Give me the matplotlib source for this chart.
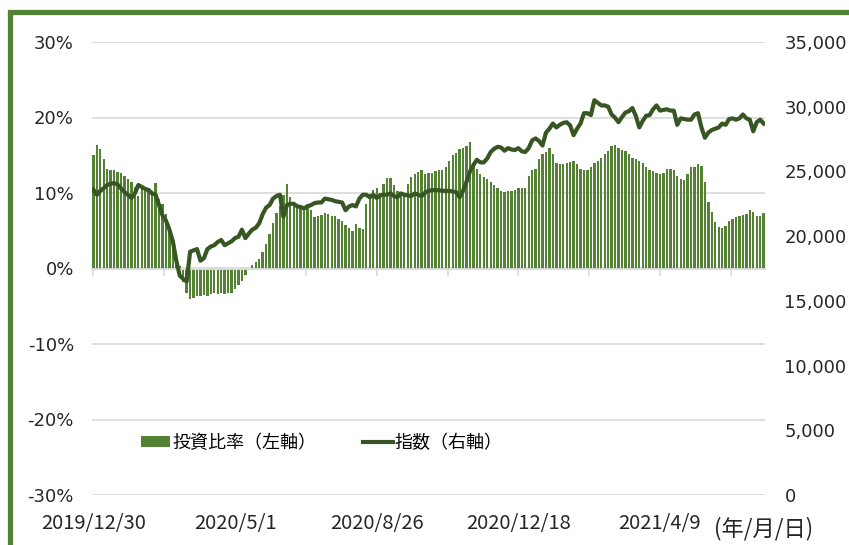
import numpy as np
import matplotlib.pyplot as plt
from matplotlib.patches import Rectangle, Patch
from matplotlib.lines import Line2D
from matplotlib.ticker import FuncFormatter

# investment ratio (%), one value every 2 trading days from 2019/12/30
ratio = [
    15.0, 16.3, 15.8, 14.5, 13.2, 13.0, 13.1, 12.8, 12.7, 12.3,
    11.9, 11.4, 10.8, 9.6, 10.5, 10.8, 10.6, 10.2, 11.3, 9.2,
    8.6, 7.2, 5.2, 3.6, 1.5, 0.3, -1.8, -3.2, -4.0, -3.9,
    -3.7, -3.6, -3.5, -3.6, -3.4, -3.3, -3.4, -3.2, -3.4, -3.2,
    -3.3, -2.7, -2.2, -1.7, -0.8, -0.2, 0.4, 0.8, 1.3, 2.2,
    3.3, 4.6, 6.0, 7.3, 8.3, 9.8, 11.2, 9.5, 8.7, 8.4,
    8.2, 8.3, 8.6, 7.8, 6.8, 7.0, 7.1, 7.3, 7.2, 7.0,
    6.9, 6.6, 6.3, 5.8, 5.3, 5.0, 5.9, 5.3, 5.2, 8.5,
    9.9, 10.4, 10.6, 10.0, 11.2, 12.0, 12.0, 11.0, 10.3, 9.9,
    10.0, 11.2, 12.1, 12.5, 12.8, 13.0, 12.5, 12.6, 12.7, 12.9,
    13.0, 13.1, 13.4, 14.3, 15.0, 15.3, 15.8, 15.9, 16.2, 16.7,
    13.9, 13.2, 12.5, 12.1, 11.8, 11.4, 11.0, 10.6, 10.3, 10.1,
    10.2, 10.3, 10.4, 10.6, 10.6, 10.6, 12.3, 13.0, 13.2, 14.5,
    15.2, 15.4, 16.0, 15.2, 14.0, 13.9, 13.9, 14.0, 14.1, 14.3,
    13.8, 13.2, 13.0, 13.1, 13.4, 14.0, 14.3, 14.7, 15.2, 15.6,
    16.2, 16.3, 16.0, 15.7, 15.5, 15.2, 14.7, 14.5, 14.3, 14.0,
    13.5, 13.1, 12.9, 12.6, 12.5, 12.7, 13.2, 13.2, 13.0, 12.3,
    11.9, 11.7, 12.5, 13.5, 13.5, 13.9, 13.6, 11.5, 8.8, 7.5,
    6.2, 5.5, 5.4, 5.6, 6.3, 6.6, 6.8, 7.0, 7.1, 7.2,
    7.8, 7.5, 6.9, 7.0, 7.3,
]

# index level (thousands), same dates
index_k = [
    23.6, 23.2, 23.5, 23.7, 23.95, 24.05, 24.1, 24.0, 23.7, 23.4,
    23.2, 22.95, 23.3, 23.95, 23.8, 23.65, 23.55, 23.3, 23.2, 22.4,
    21.6, 21.2, 20.5, 19.6, 18.1, 16.95, 16.7, 16.5, 18.8, 18.9,
    19.0, 18.1, 18.3, 19.0, 19.2, 19.3, 19.55, 19.7, 19.3, 19.45,
    19.6, 19.85, 19.95, 20.5, 19.85, 20.2, 20.5, 20.65, 21.0, 21.7,
    22.2, 22.4, 22.9, 23.1, 23.2, 21.5, 22.4, 22.5, 22.5, 22.3,
    22.25, 22.15, 22.3, 22.4, 22.55, 22.6, 22.6, 22.9, 22.85, 22.8,
    22.7, 22.65, 22.6, 22.0, 22.3, 22.4, 22.3, 22.9, 23.2, 23.2,
    23.0, 23.2, 22.95, 23.15, 23.2, 23.2, 23.3, 23.1, 23.0, 23.3,
    23.2, 23.15, 23.1, 23.3, 23.2, 23.1, 23.35, 23.5, 23.55, 23.55,
    23.55, 23.5, 23.5, 23.5, 23.45, 23.4, 23.0, 23.5, 24.2, 25.0,
    25.5, 25.9, 25.7, 25.7, 26.0, 26.5, 26.75, 26.9, 26.85, 26.6,
    26.8, 26.7, 26.65, 26.8, 26.55, 26.5, 26.8, 27.4, 27.55, 27.35,
    27.0, 28.0, 28.3, 28.7, 28.4, 28.6, 28.75, 28.8, 28.55, 27.8,
    28.3, 28.7, 29.5, 29.5, 29.35, 30.5, 30.3, 30.1, 30.1, 30.0,
    29.4, 29.15, 28.8, 29.2, 29.55, 29.65, 29.9, 29.3, 28.4, 28.9,
    29.3, 29.35, 29.8, 30.1, 29.7, 29.75, 29.8, 29.7, 29.7, 28.6,
    29.1, 29.05, 29.0, 29.0, 29.4, 29.5, 28.4, 27.6, 28.0, 28.2,
    28.3, 28.4, 28.7, 28.6, 29.05, 29.1, 29.0, 29.1, 29.4, 29.1,
    29.0, 28.1, 28.8, 29.0, 28.7,
]

date_labels = ['2019/12/30', '2020/5/1', '2020/8/26', '2020/12/18', '2021/4/9']
days_per_point = 2
days_per_tick = 41

ratio = np.array(ratio) / 100.0
index_v = np.array(index_k) * 1000.0
x = np.arange(len(ratio))

bar_color = '#548235'
line_color = '#375623'
grid_color = '#d9d9d9'
text_color = '#262626'
cjk = ['Noto Sans CJK JP', 'DejaVu Sans']

fig = plt.figure(figsize=(8.49, 5.45), dpi=100)
ax = fig.add_axes([92/849, 1 - 495/545, (765-92)/849, (495-42)/545])
ax2 = ax.twinx()

ax.bar(x, ratio, width=0.68, color=bar_color, linewidth=0, zorder=2)
ax2.plot(x, index_v, color=line_color, lw=3.0, solid_joinstyle='round', zorder=3)

ax.set_xlim(-0.4, len(x) - 0.6)
ax.set_ylim(-0.30, 0.30)
ax.set_yticks(np.arange(-0.30, 0.301, 0.10))
ax.yaxis.set_major_formatter(FuncFormatter(lambda v, p: f'{v*100:.0f}%'))
ax2.set_ylim(0, 35000)
ax2.set_yticks(np.arange(0, 35001, 5000))
ax2.yaxis.set_major_formatter(FuncFormatter(lambda v, p: f'{v:,.0f}'))

ax.grid(axis='y', color=grid_color, lw=1.2)
ax.set_axisbelow(True)
for a in (ax, ax2):
    for s in ('top', 'left', 'right'):
        a.spines[s].set_visible(False)
ax2.spines['bottom'].set_visible(False)
ax.spines['bottom'].set_position(('data', 0))
ax.spines['bottom'].set_color(grid_color)
ax.spines['bottom'].set_linewidth(1.4)

ticks = np.arange(0, len(x), days_per_tick / days_per_point)
ax.set_xticks(ticks)
ax.tick_params(axis='x', direction='out', length=5, width=1.2, color=grid_color,
               labelbottom=False)
ax.tick_params(axis='y', length=0, pad=13, labelsize=13, labelcolor=text_color)
ax2.tick_params(axis='y', length=0, pad=14, labelsize=13, labelcolor=text_color)

lab_pos = np.arange(len(date_labels)) * 2 * days_per_tick / days_per_point
for pos, lab in zip(lab_pos, date_labels):
    ax.text(pos, -0.062, lab, transform=ax.get_xaxis_transform(), ha='center',
            va='center', fontsize=14.5, family=cjk, color=text_color)
fig.text(714/849, 1 - 529/545, '(年/月/日)', ha='left', va='center',
         fontsize=16, family=cjk, color=text_color)

handles = [Patch(facecolor=bar_color, edgecolor='none'),
           Line2D([], [], color=line_color, lw=3.0)]
ax.legend(handles, ['投資比率（左軸）', '指数（右軸）'], loc='center left',
          bbox_to_anchor=(0.048, 0.115), ncol=2, frameon=False,
          prop={'family': cjk, 'size': 13}, handlelength=1.65, handleheight=0.6,
          handletextpad=0.1, columnspacing=2.6)

fig.patches.append(Rectangle((10/849, -0.1), 1.2, 1 - 12/545 + 0.1,
                             transform=fig.transFigure, fill=False,
                             edgecolor=bar_color, lw=3.8))

fig.savefig('out.png', dpi=100)
